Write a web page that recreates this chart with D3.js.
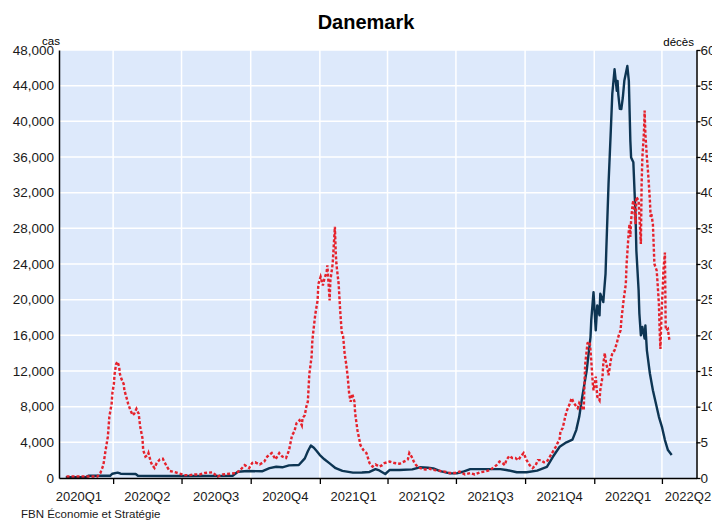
<!DOCTYPE html>
<html>
<head>
<meta charset="utf-8">
<script src="https://cdn.jsdelivr.net/npm/d3@7"></script>
<style>
body{margin:0;background:#fff;}
svg{display:block;font-family:"Liberation Sans",Arial,sans-serif;}
</style>
</head>
<body>
<script>
// Danemark : cas (axe gauche) et décès (axe droit), moyennes mobiles
const casDates=["2020-01-29","2020-02-25","2020-02-28","2020-03-28","2020-03-31","2020-04-07","2020-04-11","2020-05-01","2020-05-04","2020-07-01",
"2020-09-07","2020-09-14","2020-09-27","2020-10-16","2020-10-26","2020-11-04","2020-11-12","2020-11-21","2020-12-04","2020-12-12",
"2020-12-16","2020-12-20","2020-12-24","2020-12-28","2021-01-01","2021-01-07","2021-01-14","2021-01-22","2021-01-31","2021-02-14",
"2021-02-26","2021-03-08","2021-03-16","2021-03-21","2021-03-29","2021-04-04","2021-04-17","2021-05-04","2021-05-14","2021-05-25",
"2021-06-01","2021-06-10","2021-06-23","2021-07-02","2021-07-10","2021-07-20","2021-08-06","2021-08-29","2021-09-06","2021-09-20",
"2021-10-03","2021-10-17","2021-10-30","2021-11-07","2021-11-16","2021-11-25","2021-12-03","2021-12-08","2021-12-12","2021-12-16",
"2021-12-22","2021-12-27","2021-12-28","2021-12-31","2022-01-03","2022-01-05","2022-01-08","2022-01-09","2022-01-13","2022-01-16",
"2022-01-17","2022-01-20","2022-01-23","2022-01-25","2022-01-28","2022-01-31","2022-02-01","2022-02-02","2022-02-04","2022-02-06",
"2022-02-08","2022-02-10","2022-02-14","2022-02-16","2022-02-18","2022-02-19","2022-02-22","2022-02-25","2022-02-26","2022-03-01",
"2022-03-02","2022-03-04","2022-03-06","2022-03-09","2022-03-10","2022-03-12","2022-03-16","2022-03-20","2022-03-24","2022-03-28",
"2022-04-01","2022-04-05","2022-04-09","2022-04-14"]
const casValues=[100,100,250,250,480,600,480,450,250,220,
250,700,780,750,1100,1260,1200,1420,1450,2200,
3000,3650,3400,3000,2570,2100,1640,1100,800,600,
620,680,1000,850,450,900,900,970,1200,1150,
1085,780,520,520,700,1000,1000,1000,900,640,
640,820,1260,2380,3500,4000,4300,5370,6860,9100,
12090,15800,17680,20850,16560,19360,18240,20670,19730,22900,
25510,33000,38940,43080,45840,43420,44540,43000,41400,41370,
42670,44540,46200,44540,37820,35950,35400,29240,25510,21040,
18460,16000,16930,15630,17120,14320,11720,9850,8360,6860,
5740,4250,3130,2570]

const decesDates=["2020-01-30","2020-03-11","2020-03-15","2020-03-19","2020-03-22","2020-03-25","2020-03-27","2020-03-30","2020-03-31","2020-04-02",
"2020-04-03","2020-04-05","2020-04-07","2020-04-09","2020-04-10","2020-04-12","2020-04-15","2020-04-16","2020-04-19","2020-04-21",
"2020-04-24","2020-04-27","2020-04-29","2020-05-02","2020-05-05","2020-05-07","2020-05-10","2020-05-11","2020-05-14","2020-05-17",
"2020-05-18","2020-05-21","2020-05-23","2020-05-26","2020-05-29","2020-06-02","2020-06-06","2020-06-08","2020-06-11","2020-06-15",
"2020-06-19","2020-06-26","2020-07-05","2020-07-12","2020-07-18","2020-07-25","2020-08-01","2020-08-11","2020-08-18","2020-08-25",
"2020-09-03","2020-09-12","2020-09-17","2020-09-23","2020-09-29","2020-10-03","2020-10-07","2020-10-13","2020-10-19","2020-10-23",
"2020-10-29","2020-11-03","2020-11-08","2020-11-12","2020-11-17","2020-11-21","2020-11-25","2020-11-28","2020-12-01","2020-12-05",
"2020-12-08","2020-12-09","2020-12-12","2020-12-14","2020-12-16","2020-12-18","2020-12-21","2020-12-22","2020-12-24","2020-12-26",
"2020-12-29","2020-12-30","2021-01-02","2021-01-05","2021-01-07","2021-01-10","2021-01-11","2021-01-14","2021-01-15","2021-01-18",
"2021-01-21","2021-01-22","2021-01-23","2021-01-26","2021-01-28","2021-01-30","2021-02-01","2021-02-03","2021-02-05","2021-02-07",
"2021-02-09","2021-02-11","2021-02-13","2021-02-16","2021-02-17","2021-02-20","2021-02-24","2021-02-28","2021-03-04","2021-03-08",
"2021-03-12","2021-03-16","2021-03-21","2021-03-25","2021-03-28","2021-04-04","2021-04-10","2021-04-17","2021-04-25","2021-04-28",
"2021-04-30","2021-05-03","2021-05-06","2021-05-09","2021-05-14","2021-05-21","2021-05-27","2021-06-03","2021-06-10","2021-06-16",
"2021-06-23","2021-06-30","2021-07-06","2021-07-13","2021-07-20","2021-07-26","2021-08-02","2021-08-08","2021-08-15","2021-08-19",
"2021-08-24","2021-08-28","2021-09-01","2021-09-04","2021-09-06","2021-09-10","2021-09-14","2021-09-18","2021-09-22","2021-09-25",
"2021-09-29","2021-10-03","2021-10-07","2021-10-11","2021-10-15","2021-10-18","2021-10-22","2021-10-26","2021-10-30","2021-11-03",
"2021-11-07","2021-11-11","2021-11-16","2021-11-17","2021-11-20","2021-11-23","2021-11-25","2021-11-29","2021-12-02","2021-12-04",
"2021-12-07","2021-12-10","2021-12-12","2021-12-15","2021-12-18","2021-12-19","2021-12-20","2021-12-23","2021-12-26","2021-12-27",
"2021-12-28","2021-12-30","2021-12-31","2022-01-03","2022-01-05","2022-01-08","2022-01-09","2022-01-12","2022-01-13","2022-01-15",
"2022-01-16","2022-01-19","2022-01-20","2022-01-23","2022-01-25","2022-01-28","2022-01-31","2022-02-02","2022-02-05","2022-02-06",
"2022-02-09","2022-02-12","2022-02-13","2022-02-16","2022-02-17","2022-02-18","2022-02-19","2022-02-21","2022-02-22","2022-02-25",
"2022-02-26","2022-03-01","2022-03-04","2022-03-05","2022-03-06","2022-03-08","2022-03-09","2022-03-10","2022-03-12","2022-03-13",
"2022-03-14","2022-03-16","2022-03-17","2022-03-18","2022-03-20","2022-03-21","2022-03-22","2022-03-25","2022-03-26","2022-03-28",
"2022-03-29","2022-03-30","2022-04-01","2022-04-02","2022-04-03","2022-04-05","2022-04-06","2022-04-07","2022-04-09","2022-04-10",
"2022-04-11"]
const decesValues=[0.2,0.2,0.7,1.8,3.9,5.8,8.6,10.4,11.9,13.2,
14.6,16.0,16.3,15.6,14.6,13.9,13.2,12.3,11.2,10.4,
9.5,8.8,9.0,9.7,9.0,7.2,5.6,3.9,3.0,3.2,
3.5,2.3,1.8,1.4,2.1,2.6,2.7,2.3,1.7,1.0,
0.9,0.7,0.4,0.4,0.5,0.5,0.7,0.8,0.2,0.5,
0.6,0.7,1.1,1.8,1.4,2.1,2.2,1.9,2.3,3.0,
3.5,2.6,3.5,3.0,2.8,3.9,6.0,6.5,7.7,8.1,
7.4,8.4,8.8,10.0,10.7,14.6,17.0,19.3,21.2,23.0,
24.9,27.2,28.2,27.0,27.9,28.9,29.8,24.9,27.7,30.0,
35.2,31.9,30.0,27.2,23.5,20.5,19.8,17.4,16.0,14.2,
11.8,10.7,11.8,10.7,9.0,6.7,4.6,3.9,3.5,2.1,
1.6,1.9,1.6,1.8,2.1,2.3,2.1,2.0,2.4,2.6,
3.5,3.0,2.3,1.8,1.4,1.2,1.3,1.1,1.0,0.9,
0.7,0.7,0.9,0.5,0.7,0.5,0.8,0.9,1.1,1.4,
1.8,2.3,2.1,1.8,2.5,3.1,2.8,2.8,2.5,3.0,
3.5,2.5,1.8,1.4,1.8,2.5,2.5,2.2,2.3,3.0,
3.7,4.4,5.5,6.5,7.0,8.4,9.3,10.3,11.2,10.7,
10.2,9.8,10.5,10.0,9.5,13.3,16.0,18.9,19.1,17.9,
16.5,13.3,12.3,14.2,11.4,10.9,12.3,14.2,16.0,17.5,
16.5,15.1,14.4,16.5,17.5,17.9,18.9,19.8,20.7,22.1,
24.9,27.2,30.0,34.7,35.6,33.8,36.1,38.4,38.9,35.6,
39.4,38.9,32.8,41.2,45.0,48.2,51.5,48.2,45.0,43.6,
42.2,38.9,36.6,37.0,35.6,32.8,30.0,29.1,27.7,24.4,
20.7,18.1,24.4,26.3,29.1,31.6,21.2,20.7,20.9,20.0,
19.3]

const casTicks=[0,4000,8000,12000,16000,20000,24000,28000,32000,36000,40000,44000,48000]
const decesTicks=[0,5,10,15,20,25,30,35,40,45,50,55,60]
const quarterStarts=["2020-01-01","2020-04-01","2020-07-01","2020-10-01","2021-01-01","2021-04-01","2021-07-01","2021-10-01","2022-01-01","2022-04-01","2022-07-01"]
const quarterLabels=["2020Q1","2020Q2","2020Q3","2020Q4","2021Q1","2021Q2","2021Q3","2021Q4","2022Q1","2022Q2"]

const parse=d3.timeParse("%Y-%m-%d")
const cas=casDates.map((d,i)=>({date:parse(d),v:casValues[i]}))
const deces=decesDates.map((d,i)=>({date:parse(d),v:decesValues[i]}))
const qDates=quarterStarts.map(parse)

const w=712,h=521
const pLeft=59,pRight=696.5,pTop=50,pBottom=478

const svg=d3.select("body").append("svg").attr("width",w).attr("height",h)

const x=d3.scaleTime().domain([parse("2020-01-20"),parse("2022-05-17")]).range([pLeft,pRight])
const yL=d3.scaleLinear().domain([0,48000]).range([pBottom,pTop])
const yR=d3.scaleLinear().domain([0,60]).range([pBottom,pTop])

// fond
svg.append("rect").attr("x",pLeft).attr("y",pTop).attr("width",pRight-pLeft).attr("height",pBottom-pTop).attr("fill","#dde9fb")

// grille
const tickQ=qDates.filter(d=>d>x.domain()[0]&&d<x.domain()[1])
svg.append("g").selectAll("line").data(casTicks.slice(1)).enter().append("line")
   .attr("x1",pLeft).attr("x2",pRight).attr("y1",d=>yL(d)).attr("y2",d=>yL(d))
   .attr("stroke","#fff").attr("stroke-width",1.5)
svg.append("g").selectAll("line").data(tickQ).enter().append("line")
   .attr("x1",d=>x(d)).attr("x2",d=>x(d)).attr("y1",pTop).attr("y2",pBottom)
   .attr("stroke","#fff").attr("stroke-width",1.5)

// courbes
const lineCas=d3.line().x(d=>x(d.date)).y(d=>yL(d.v))
const lineDeces=d3.line().x(d=>x(d.date)).y(d=>yR(d.v))
svg.append("path").datum(cas).attr("d",lineCas).attr("fill","none")
   .attr("stroke","#0d3553").attr("stroke-width",2.4).attr("stroke-linejoin","round")
svg.append("path").datum(deces).attr("d",lineDeces).attr("fill","none")
   .attr("stroke","#e5222c").attr("stroke-width",2.4).attr("stroke-dasharray","3,2")

// axes
const axL=svg.append("g").attr("transform","translate("+pLeft+",0)")
   .call(d3.axisLeft(yL).tickValues(casTicks).tickSize(0).tickPadding(5).tickFormat(d3.format(",")))
const axR=svg.append("g").attr("transform","translate("+pRight+",0)")
   .call(d3.axisRight(yR).tickValues(decesTicks).tickSizeInner(4).tickSizeOuter(0).tickPadding(0))
const axB=svg.append("g").attr("transform","translate(0,"+pBottom+")")
   .call(d3.axisBottom(x).tickValues(tickQ).tickSizeInner(6).tickSizeOuter(0).tickFormat(""))
;[axL,axR,axB].forEach(a=>{
  a.select(".domain").attr("stroke","#000").attr("stroke-width",1.5)
  a.selectAll(".tick line").attr("stroke","#000").attr("stroke-width",1.3)
  a.selectAll("text").attr("fill","#1a1a1a").style("font-size","13.5px").style("font-family","'Liberation Sans',Arial,sans-serif")
})

// libellés des trimestres, au milieu de chaque trimestre
svg.append("g").selectAll("text").data(quarterLabels).enter().append("text")
   .attr("x",(d,i)=>Math.min(x(new Date((+qDates[i]+ +qDates[i+1])/2)),688))
   .attr("y",501).attr("text-anchor","middle")
   .style("font-size","13px").attr("fill","#1a1a1a").text(d=>d)

// titres
svg.append("text").attr("x",366).attr("y",29).attr("text-anchor","middle")
   .style("font-size","20px").style("font-weight","bold").text("Danemark")
svg.append("text").attr("x",60).attr("y",45).attr("text-anchor","end")
   .style("font-size","11.5px").text("cas")
svg.append("text").attr("x",694).attr("y",46).attr("text-anchor","end")
   .style("font-size","11.5px").text("décès")
svg.append("text").attr("x",21).attr("y",518)
   .style("font-size","11.5px").attr("fill","#1a1a1a").text("FBN Économie et Stratégie")
</script>
</body>
</html>
